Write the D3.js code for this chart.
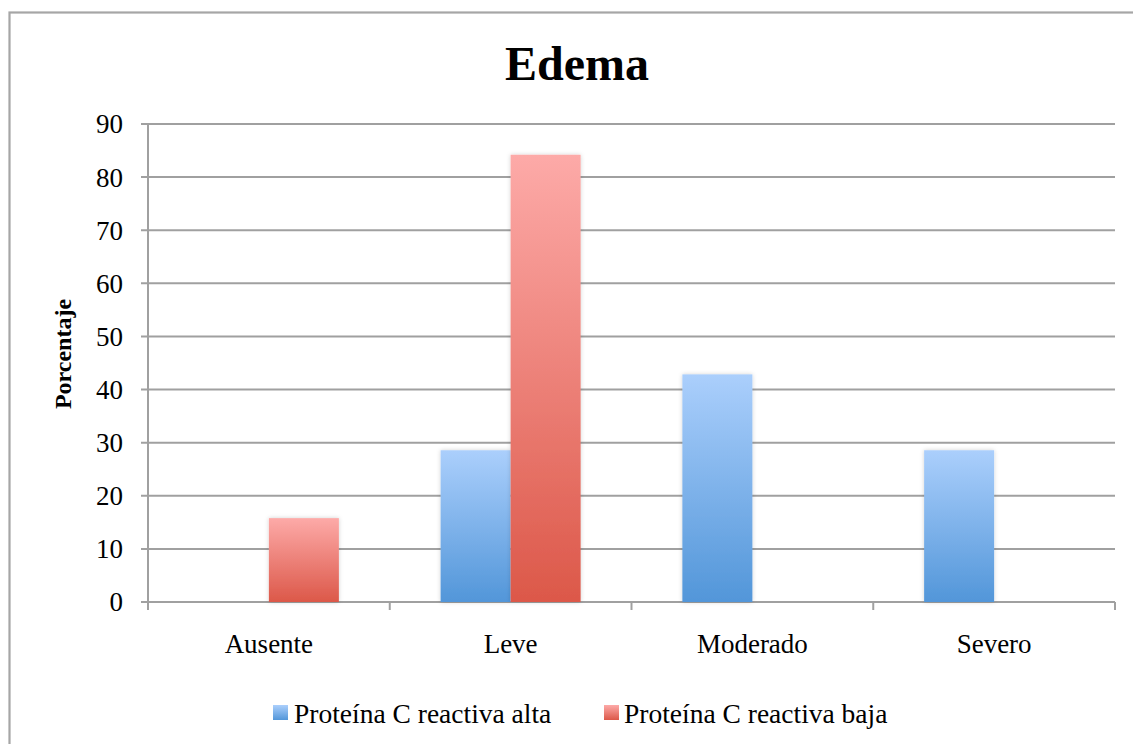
<!DOCTYPE html>
<html><head><meta charset="utf-8">
<script src="https://cdn.jsdelivr.net/npm/d3@7"></script>
<style>body{margin:0;background:#fff;}svg{display:block;}svg text{font-family:"Liberation Serif","DejaVu Serif",serif;}</style>
</head><body>
<svg id="chart" width="1133" height="744"></svg>
<script>
const categories = ["Ausente", "Leve", "Moderado", "Severo"];
const seriesNames = ["Proteína C reactiva alta", "Proteína C reactiva baja"];
const altaValues = [0, 28.57, 42.86, 28.57];
const bajaValues = [15.79, 84.21, 0, 0];
const yTicks = [0, 10, 20, 30, 40, 50, 60, 70, 80, 90];

const FONT = "'Liberation Serif', 'DejaVu Serif', serif";
const svg = d3.select("#chart");
const W = 1133, H = 744;
const m = {left:148, right:1115, top:124, bottom:602};

const defs = svg.append("defs");
const grads = [["gBlue", "#abcffc", "#5296d9"], ["gRed", "#fdaaa8", "#dc5849"]];
grads.forEach(([id, c1, c2]) => {
  const g = defs.append("linearGradient").attr("id", id).attr("x1",0).attr("y1",0).attr("x2",0).attr("y2",1);
  g.append("stop").attr("offset","0%").attr("stop-color",c1);
  g.append("stop").attr("offset","100%").attr("stop-color",c2);
});
const f = defs.append("filter").attr("id","shadow").attr("x","-20%").attr("y","-5%").attr("width","140%").attr("height","110%");
f.append("feDropShadow").attr("dx",0).attr("dy",0).attr("stdDeviation",2).attr("flood-color","#000").attr("flood-opacity",0.18);

// outer border
svg.append("rect").attr("x",9.5).attr("y",12.5).attr("width",W+20).attr("height",H+20)
  .attr("fill","none").attr("stroke","#a6a6a6").attr("stroke-width",2.2);

const x0 = d3.scaleBand().domain(categories).range([m.left, m.right]).paddingInner(0).paddingOuter(0);
const x1 = d3.scaleBand().domain(seriesNames).range([0, 140]);
const y = d3.scaleLinear().domain([0, 90]).range([m.bottom, m.top]);

// gridlines
svg.append("g").selectAll("line").data(yTicks).join("line")
  .attr("x1", m.left - 7).attr("x2", m.right)
  .attr("y1", d => y(d)).attr("y2", d => y(d))
  .attr("stroke", "#a0a0a0").attr("stroke-width", 2);

// y axis line
svg.append("line").attr("x1", m.left).attr("x2", m.left).attr("y1", m.top).attr("y2", m.bottom + 8)
  .attr("stroke", "#a0a0a0").attr("stroke-width", 2);
// x ticks
const xTickPos = categories.map(c => x0(c)).concat([m.right]);
svg.append("g").selectAll("line").data(xTickPos).join("line")
  .attr("x1", d => d).attr("x2", d => d).attr("y1", m.bottom).attr("y2", m.bottom + 8)
  .attr("stroke", "#a0a0a0").attr("stroke-width", 2);

// y tick labels
svg.append("g").selectAll("text").data(yTicks).join("text")
  .attr("x", 123).attr("y", d => y(d)).attr("dy", "0.35em")
  .attr("font-family", FONT)
  .attr("text-anchor", "end").attr("font-size", 27).attr("fill", "#000").text(d => d);

// bars
const data = [];
categories.forEach((c, i) => {
  data.push({c, s: seriesNames[0], v: altaValues[i], fill: "url(#gBlue)"});
  data.push({c, s: seriesNames[1], v: bajaValues[i], fill: "url(#gRed)"});
});
svg.append("g").selectAll("rect").data(data.filter(d => d.v > 0)).join("rect")
  .attr("x", d => x0(d.c) + x0.bandwidth()/2 - 70 + x1(d.s))
  .attr("width", x1.bandwidth())
  .attr("y", d => y(d.v)).attr("height", d => y(0) - y(d.v))
  .attr("fill", d => d.fill).attr("filter", "url(#shadow)");

// category labels
svg.append("g").selectAll("text").data(categories).join("text")
  .attr("x", d => x0(d) + x0.bandwidth()/2).attr("y", 653)
  .attr("font-family", FONT)
  .attr("text-anchor", "middle").attr("font-size", 27).text(d => d);

// title
svg.append("text").attr("x", 577).attr("y", 80).attr("text-anchor", "middle")
  .attr("font-family", FONT)
  .attr("font-size", 48).attr("font-weight", "bold").text("Edema");

// y label
svg.append("text").attr("transform", "translate(71,354) rotate(-90)")
  .attr("font-family", FONT)
  .attr("text-anchor", "middle").attr("font-size", 24).attr("font-weight", "bold").text("Porcentaje");

// legend
const legSq = [273, 604];
const legTx = [294, 624];
const leg = svg.append("g").selectAll("g").data(seriesNames).join("g");
leg.append("rect").attr("x", (d, i) => legSq[i]).attr("y", 705).attr("width", 15).attr("height", 15)
  .attr("fill", (d, i) => i === 0 ? "url(#gBlue)" : "url(#gRed)");
leg.append("text").attr("x", (d, i) => legTx[i]).attr("y", 723)
  .attr("font-family", FONT).attr("font-size", 27.5).text(d => d);
</script>
</body></html>
